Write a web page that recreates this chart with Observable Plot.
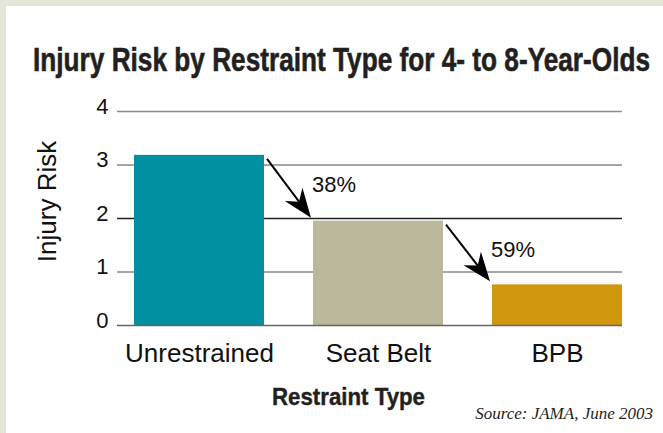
<!DOCTYPE html>
<html>
<head>
<meta charset="utf-8">
<script src="https://cdn.jsdelivr.net/npm/d3@7"></script>
<script src="https://cdn.jsdelivr.net/npm/@observablehq/plot@0.6"></script>
<style>
  html, body { margin: 0; padding: 0; background: #e3e6d7; }
  #wrap { position: relative; width: 663px; height: 433px; overflow: hidden; }
  #panel { position: absolute; left: 6px; top: 6px; width: 657px; height: 427px; background: #ffffff; }
  #title { position: absolute; left: 33px; top: 42px; 
    font: bold 34px "Liberation Sans", Arial, sans-serif;
    line-height: 34px; color: #231f20; white-space: nowrap; transform-origin: 0 0;
    -webkit-text-stroke: 0.6px #231f20; }
  #chart { position: absolute; left: 0; top: 0; }
  #source { position: absolute; right: 10px; top: 405px;
    font: italic 17px "Liberation Serif", "DejaVu Serif", serif; line-height: 17px;
    color: #231f20; white-space: nowrap; }
</style>
</head>
<body>
<div id="wrap">
  <div id="panel"></div>
  <div id="chart"></div>
  <span id="title">Injury Risk by Restraint Type for 4- to 8-Year-Olds</span>
  <div id="source">Source: JAMA, June 2003</div>
</div>
<script>
// ---- data ----
const categories = ["Unrestrained", "Seat Belt", "BPB"];
const risk = [3.18, 1.95, 0.76];
const reductions = ["38%", "59%"];
const yTicks = [0, 1, 2, 3, 4];
const barColors = ["#0090a1", "#bcb89b", "#d1970f"];

const data = categories.map((c, i) => ({type: c, risk: risk[i]}));

const chart = Plot.plot({
  width: 663,
  height: 433,
  marginTop: 111,
  marginBottom: 108,
  marginLeft: 117,
  marginRight: 41,
  style: {fontFamily: '"Liberation Sans", Arial, sans-serif', color: "#111", background: "transparent", overflow: "visible"},
  x: {domain: categories, paddingInner: 0.272, paddingOuter: 0.039, align: 1},
  y: {domain: [0, 4]},
  color: {domain: categories, range: barColors},
  marks: [
    Plot.ruleY(yTicks, {filter: d => d !== 0 && d !== 2, stroke: "#8a8a8a", strokeWidth: 1.3}),
    Plot.ruleY(yTicks, {filter: d => d === 2, stroke: "#222", strokeWidth: 1.3}),
    Plot.barY(data, {x: "type", y: "risk", fill: "type"}),
    Plot.ruleY(yTicks, {filter: d => d === 0, stroke: "#666", strokeWidth: 1.6}),
    Plot.axisX({tickSize: 0, tickPadding: 18, fontSize: 26, label: null}),
    Plot.axisY({ticks: yTicks, tickSize: 0, tickPadding: 9, dy: -5, fontSize: 22, label: null, tickFormat: d => String(d)})
  ]
});
document.getElementById("chart").appendChild(chart);

// condensed title: fit to the reference's width
const title = document.getElementById("title");
const tw = title.getBoundingClientRect().width;
title.style.transform = `scaleX(${617 / tw})`;

const svg = d3.select(chart);
const sx = chart.scale("x"), sy = chart.scale("y");

// axis titles
svg.append("text")
  .attr("transform", "translate(56,201.5) rotate(-90)")
  .attr("text-anchor", "middle")
  .attr("fill", "#111")
  .style("font-size", "26px")
  .text("Injury Risk");
svg.append("text")
  .attr("x", 272).attr("y", 405)
  .attr("text-anchor", "start")
  .attr("textLength", 153)
  .attr("lengthAdjust", "spacingAndGlyphs")
  .attr("fill", "#231f20")
  .attr("stroke", "#231f20")
  .attr("stroke-width", 0.4)
  .style("font", 'bold 24.5px "Liberation Sans", Arial, sans-serif')
  .text("Restraint Type");

// arrows between bars, positioned with the chart's scales
for (let i = 0; i < reductions.length; i++) {
  const from = categories[i], to = categories[i + 1];
  const x0 = sx.apply(from) + sx.bandwidth + 3;
  const y0 = sy.apply(risk[i]) + 4;
  const x1 = sx.apply(to) - 2;
  const y1 = sy.apply(risk[i + 1]) - 3;
  const len = Math.hypot(x1 - x0, y1 - y0);
  const ux = (x1 - x0) / len, uy = (y1 - y0) / len;
  const nx = -uy, ny = ux;
  const L = 29, W = 11, notch = 9;
  const bx = x1 - L * ux, by = y1 - L * uy;
  const mx = x1 - (L - notch) * ux, my = y1 - (L - notch) * uy;
  svg.append("line")
    .attr("x1", x0).attr("y1", y0).attr("x2", mx).attr("y2", my)
    .attr("stroke", "#000").attr("stroke-width", 2);
  svg.append("path")
    .attr("d", `M${x1},${y1}L${bx + W * nx},${by + W * ny}L${mx},${my}L${bx - W * nx},${by - W * ny}Z`)
    .attr("fill", "#000");
  svg.append("text")
    .attr("x", x1 + 1).attr("y", (y0 + y1) / 2 + 4)
    .attr("text-anchor", "start")
    .attr("fill", "#111")
    .style("font-size", "22px")
    .text(reductions[i]);
}
</script>
</body>
</html>
